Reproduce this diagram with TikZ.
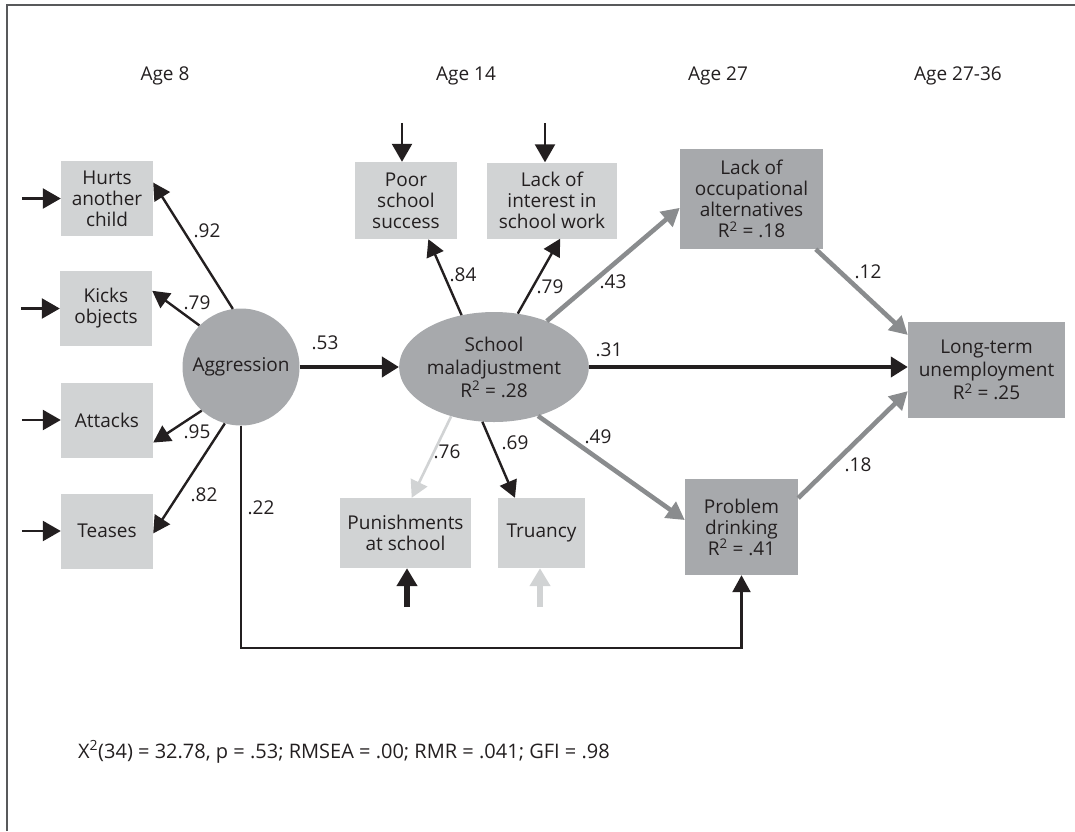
\documentclass[tikz,border=0pt]{standalone}
\usepackage{fontspec}
\setmainfont{Open Sans}
\usepackage{tikz}
\usetikzlibrary{arrows.meta,positioning,calc,shapes.geometric}
\definecolor{ink}{HTML}{231F20}
\definecolor{boxlight}{HTML}{D1D3D4}
\definecolor{boxdark}{HTML}{A7A9AC}
\definecolor{arrgray}{HTML}{8A8C8E}
\definecolor{arrlight}{HTML}{D1D3D4}
\definecolor{framegray}{HTML}{58595B}
\tikzset{
  txt/.style={font=\fontsize{19}{21}\selectfont,text=ink,align=center,inner sep=0pt},
  obs/.style={txt,fill=boxlight,minimum width=92pt,minimum height=75pt},
  dep/.style={txt,fill=boxdark},
  lat/.style={txt,fill=boxdark,circle,minimum size=117pt},
  latel/.style={txt,fill=boxdark,ellipse,minimum width=162pt,minimum height=110pt,
                font=\fontsize{19}{23}\selectfont},
  coef/.style={txt},
  arr/.style={-{Triangle[length=17pt,width=18pt]},line width=2.4pt,ink},
  barr/.style={-{Triangle[length=17pt,width=20pt]},line width=4pt,ink},
  garr/.style={-{Triangle[length=18pt,width=19pt]},line width=4.6pt,arrgray},
  larr/.style={-{Triangle[length=17pt,width=18pt]},line width=2.6pt,arrlight},
  inarr/.style={-{Triangle[length=18pt,width=20pt]},line width=2.4pt,ink},
  fatin/.style={-{Triangle[length=18pt,width=20pt]},line width=6.5pt,ink},
  fatlight/.style={-{Triangle[length=18pt,width=20pt]},line width=6.5pt,arrlight},
}
\begin{document}
\begin{tikzpicture}[x=1pt,y=-1pt]
  \useasboundingbox (0,0) rectangle (1075,831);
  \draw[framegray,line width=2pt] (7,831) -- (7,5) -- (1075,5);

  \node[txt] (age8)  at (165,76) {Age 8};
  \node[txt] (age14) at (466,76) {Age 14};
  \node[txt] (age27) at (718,76) {Age 27};
  \node[txt] (age36) at (958,76) {Age 27-36};

  \node[obs] (hurts)   at (107,198.5) {Hurts\\another\\child};
  \node[obs] (kicks)   at (106,308.5) {Kicks\\objects};
  \node[obs] (attacks) at (107,420)   {Attacks};
  \node[obs] (teases)  at (107,531)   {Teases};
  \node[lat] (aggr) at (241,367) {Aggression};

  \node[latel] (school) at (494,367) {School\\maladjustment\\R\textsuperscript{2} = .28};
  \node[obs,minimum width=102pt,minimum height=77pt] (poor) at (406,200.5) {Poor\\school\\success};
  \node[obs,minimum width=130pt,minimum height=76pt] (lackint) at (552,200.5) {Lack of\\interest in\\school work};
  \node[obs,minimum width=131pt,minimum height=70pt] (punish) at (405.5,533) {Punishments\\at school};
  \node[obs,minimum width=87pt,minimum height=70pt] (truancy) at (541.5,533) {Truancy};

  \node[dep,minimum width=143pt,minimum height=100pt] (lackocc) at (751.5,199) {Lack of\\occupational\\alternatives\\R\textsuperscript{2} = .18};
  \node[dep,minimum width=113pt,minimum height=96pt] (drink) at (741.5,527) {Problem\\drinking\\R\textsuperscript{2} = .41};
  \node[dep,minimum width=157pt,minimum height=96pt,font=\fontsize{19}{23}\selectfont] (longterm) at (986.5,370) {Long-term\\unemployment\\R\textsuperscript{2} = .25};

  \foreach \n in {hurts,kicks,attacks,teases}{
    \coordinate (\n-e) at ($(\n.west)+(-39,0)$);
    \draw[inarr] (\n-e) -- (\n.west);
  }
  \foreach \n/\dx in {poor/-4,lackint/-7}{
    \coordinate (\n-e) at ($(\n.north)+(\dx,-39)$);
    \draw[inarr] (\n-e) -- (\n-e |- \n.north);
  }
  \foreach \n/\dx/\s in {punish/1.5/fatin,truancy/-1.5/fatlight}{
    \coordinate (\n-e) at ($(\n.south)+(\dx,39)$);
    \draw[\s] (\n-e) -- (\n-e |- \n.south);
  }

  \draw[arr] (aggr.98) -- (hurts.19);
  \draw[arr] (aggr.135) -- (kicks.21);
  \draw[arr] (aggr.228) -- (attacks.-26);
  \draw[arr] (aggr.254) -- (teases.-3);
  \draw[barr] (aggr.east) -- (school.west);

  \draw[arr] (school.122) -- (poor.-60);
  \draw[arr] (school.66) -- (lackint.-78);
  \draw[larr] (school.229) -- (punish.80);
  \draw[arr] (school.258) -- (truancy.127);
  \draw[garr] (school.41) -- (lackocc.187);
  \draw[garr] (school.-48) -- (drink.173);
  \draw[barr] (school.east) -- (school.east -| longterm.west);
  \draw[garr] (lackocc.-38) -- (longterm.156);
  \draw[garr] (drink.27) -- (longterm.195);

  \coordinate (loopc) at (490,648);
  \draw[arr] (aggr.south) |- (loopc) -| (drink.south);

  \foreach \nm/\x/\y/\v in {c92/207/231/.92, c79a/197/303/.79, c95/197/432/.95,
      c82/204/495/.82, c22/261/508/.22, c53/325/343/.53, c84/463/275/.84,
      c79b/550/287/.79, c43/613/282/.43, c31/609/350/.31, c49/598/437/.49,
      c76/447/452/.76, c69/515/443/.69, c12/868/272/.12, c18/858/465/.18}{
    \node[coef] (\nm) at (\x,\y) {\v};
  }

  \node[txt,anchor=west,font=\fontsize{20}{22}\selectfont] (fit) at (78,752) {X\textsuperscript{2}(34) = 32.78, p = .53; RMSEA = .00; RMR = .041; GFI = .98};
\end{tikzpicture}
\end{document}
